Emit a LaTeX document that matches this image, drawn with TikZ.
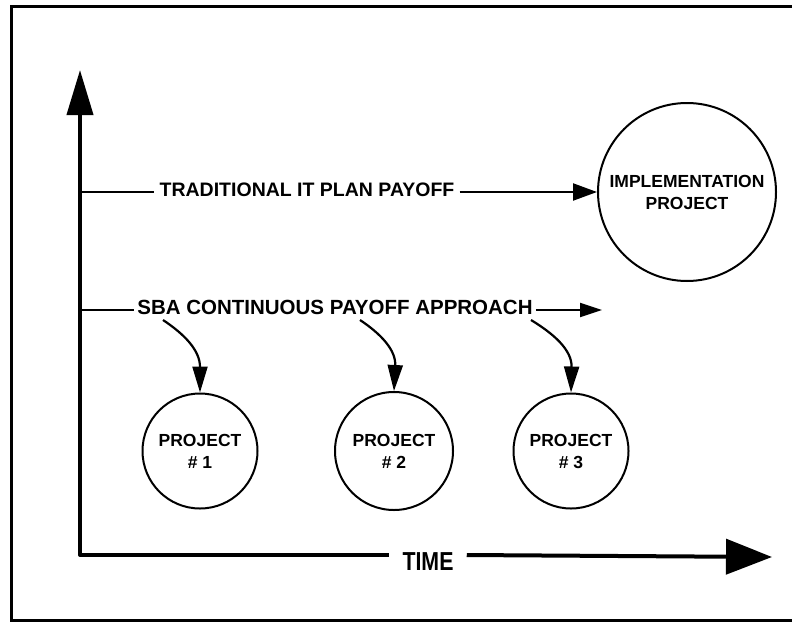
\documentclass[tikz,border=0pt]{standalone}
\usepackage{fontspec}
\setmainfont{Liberation Sans}
\usetikzlibrary{arrows.meta}
\usetikzlibrary{positioning}
\tikzstyle{axis}=[line width=4pt, line join=round]
\tikzstyle{flow}=[line width=2.2pt]
\tikzstyle{label_big}=[font=\bfseries\fontsize{20}{24}\selectfont, inner sep=4pt]
\tikzstyle{proj}=[circle, draw=black, line width=2pt, inner sep=0pt, align=center,
    font=\bfseries\fontsize{17.5}{22}\selectfont]
\tikzstyle{bend_arrow}=[flow, -{Triangle[length=26pt,width=15pt]}]

\begin{document}
\begin{tikzpicture}[x=1pt, y=-1pt]
          \useasboundingbox (0,0) rectangle (792,624);
          % frame
          \draw[line width=3pt] (792,6) -- (11,6) -- (11,620) -- (792,620);
          % axes
          \coordinate (origin) at (80,555);
          \coordinate (ytop) at (80,70);
          \coordinate (xend) at (772,557);
          \node[font=\bfseries\fontsize{26}{28}\selectfont, xscale=0.82, inner xsep=16pt] (time) at (428,562){TIME};
          \draw[axis, {Triangle[length=45pt,width=26pt]}-] (ytop) -- (origin) -- (origin -| time.west);
          \draw[axis, -{Triangle[length=46pt,width=35pt]}] (time.east |- origin) -- (xend);
          % traditional plan
          \coordinate (tstart) at (80,192);
          \node[label_big, font=\bfseries\fontsize{19.5}{24}\selectfont, inner sep=5pt] (trad) at (307,190){TRADITIONAL IT PLAN PAYOFF};
          \node[proj, minimum size=178pt] (impl) at (687,192){IMPLEMENTATION\\PROJECT};
          \draw[flow] (tstart) -- (tstart -| trad.west);
          \draw[flow, -{Triangle[length=24pt,width=17pt]}] (trad.east |- tstart) -- (impl.west);
          % continuous payoff
          \coordinate (sstart) at (80,310);
          \coordinate (send) at (602,310);
          \node[label_big, font=\bfseries\fontsize{20.5}{24}\selectfont, inner sep=3pt] (sba) at (335,307){SBA CONTINUOUS PAYOFF APPROACH};
          \draw[flow] (sstart) -- (sstart -| sba.west);
          \draw[flow, -{Triangle[length=22pt,width=14pt]}] (sba.east |- send) -- (send);
          % projects
          \node[proj, minimum size=115pt] (p1) at (200,451){PROJECT\\\# 1};
          \node[proj, minimum size=118pt] (p2) at (394,451){PROJECT\\\# 2};
          \node[proj, minimum size=115pt] (p3) at (571,451){PROJECT\\\# 3};
          \coordinate (c1) at (163,320);
          \coordinate (c2) at (360,320);
          \coordinate (c3) at (531,320);
          \draw[bend_arrow] (c1) .. controls (184,334) and (200,350) .. (p1.north);
          \draw[bend_arrow] (c2) .. controls (381,334) and (396,350) .. (p2.north);
          \draw[bend_arrow] (c3) .. controls (554,334) and (572,350) .. (p3.north);
        \end{tikzpicture}
\end{document}
